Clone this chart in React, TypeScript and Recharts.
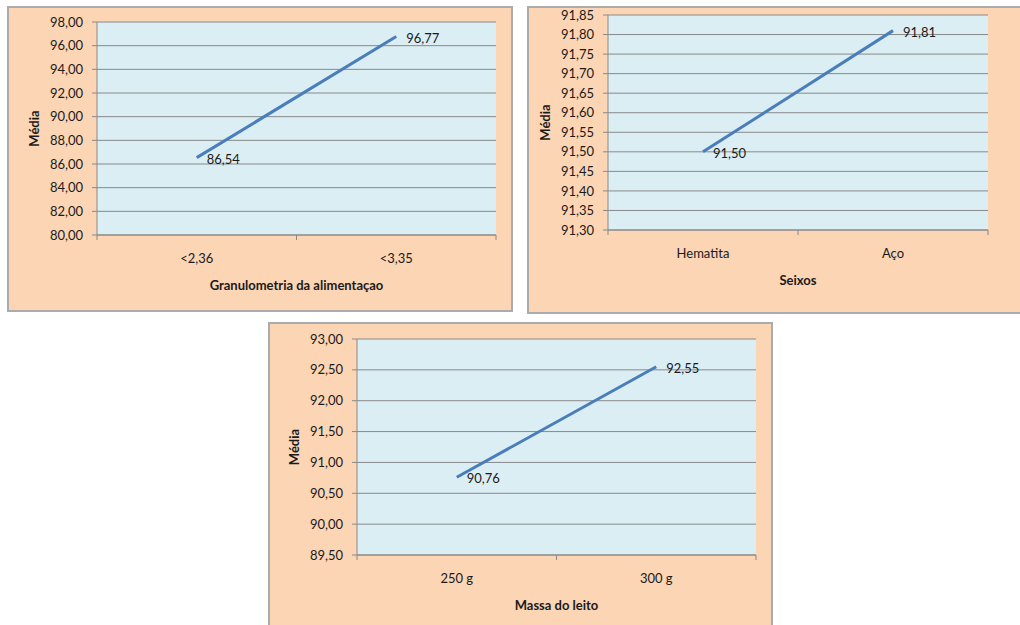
import React from 'react';
import { LineChart, Line, XAxis, YAxis, CartesianGrid, LabelList, Label } from 'recharts';

// Granulometria da alimentação
const granCategories = ['<2,36', '<3,35'];
const granMeans = [86.54, 96.77];
const granTicks = [80, 82, 84, 86, 88, 90, 92, 94, 96, 98];

// Seixos
const seixoCategories = ['Hematita', 'Aço'];
const seixoMeans = [91.5, 91.81];
const seixoTicks = [91.3, 91.35, 91.4, 91.45, 91.5, 91.55, 91.6, 91.65, 91.7, 91.75, 91.8, 91.85];

// Massa do leito
const massaCategories = ['250 g', '300 g'];
const massaMeans = [90.76, 92.55];
const massaTicks = [89.5, 90, 90.5, 91, 91.5, 92, 92.5, 93];

const FONT = "Lato, 'Open Sans', sans-serif";
const TEXT = '#1a1a1a';
const GRID = '#898989';

const fmt = (v: number) => Number(v).toFixed(2).replace('.', ',');

interface PanelProps {
    title: string;
    categories: string[];
    means: number[];
    ticks: number[];
    left: number;
    top: number;
    width: number;
    height: number;
    margin: { top: number; right: number; bottom: number; left: number };
    yWidth: number;
}

const MeanPanel: React.FC<PanelProps> = ({ title, categories, means, ticks, left, top, width, height, margin, yWidth }) => {
    // categories sit in the middle of unit-wide slots, tick marks on slot edges
    const data = categories.map((c, i) => ({ pos: i + 0.5, cat: c, value: means[i] }));
    const xTicks: number[] = [];
    categories.forEach((_, i) => xTicks.push(i, i + 0.5));
    xTicks.push(categories.length);

    const renderXTick = (p: any) => {
        const v = p.payload.value as number;
        if (Number.isInteger(v)) {
            return <line x1={p.x} y1={p.y} x2={p.x} y2={p.y + 5} stroke={GRID} strokeWidth={1} />;
        }
        return (
            <text x={p.x} y={p.y + 23} textAnchor="middle" dominantBaseline="central"
                fontFamily={FONT} fontSize={13} fill={TEXT}>
                {categories[Math.floor(v)]}
            </text>
        );
    };

    return (
        <div style={{
            position: 'absolute', left, top, width, height, boxSizing: 'border-box',
            background: '#FCD5B5', border: '2px solid #ABABAB',
        }}>
            <div style={{ position: 'absolute', left: -2, top: -2 }}>
                <LineChart width={width} height={height} data={data} margin={margin}>
                    <CartesianGrid vertical={false} stroke={GRID} fill="#DBEEF4" />
                    <XAxis dataKey="pos" type="number" domain={[0, categories.length]} ticks={xTicks}
                        interval={0} height={60} tickSize={0} tickMargin={0} tickLine={false}
                        axisLine={{ stroke: GRID }} tick={renderXTick}>
                        <Label content={(lp: any) => {
                            const vb = lp.viewBox || {};
                            return (
                                <text x={vb.x + vb.width / 2} y={vb.y + 50} textAnchor="middle"
                                    dominantBaseline="central" fontFamily={FONT} fontSize={13}
                                    fontWeight="bold" fill={TEXT}>{title}</text>
                            );
                        }} />
                    </XAxis>
                    <YAxis type="number" domain={[ticks[0], ticks[ticks.length - 1]]} ticks={ticks}
                        interval={0} width={yWidth} tickSize={5} tickMargin={9}
                        axisLine={{ stroke: GRID }} tickLine={{ stroke: GRID }}
                        tickFormatter={fmt} tick={{ fontFamily: FONT, fontSize: 13, fill: TEXT }}>
                        <Label content={(lp: any) => {
                            const vb = lp.viewBox || {};
                            const cx = vb.x + vb.width - 63;
                            const cy = vb.y + vb.height / 2;
                            return (
                                <text x={cx} y={cy} transform={`rotate(-90, ${cx}, ${cy})`}
                                    textAnchor="middle" dominantBaseline="central" fontFamily={FONT}
                                    fontSize={13} fontWeight="bold" fill={TEXT}>Média</text>
                            );
                        }} />
                    </YAxis>
                    <Line type="linear" dataKey="value" stroke="#4A7EBB" strokeWidth={3}
                        dot={false} activeDot={false} isAnimationActive={false}>
                        <LabelList dataKey="value" content={(lp: any) => (
                            <text x={Number(lp.x) + 10} y={Number(lp.y) + 1} dominantBaseline="central"
                                fontFamily={FONT} fontSize={13} fill={TEXT}>{fmt(lp.value)}</text>
                        )} />
                    </Line>
                </LineChart>
            </div>
        </div>
    );
};

const App: React.FC = () => {
    return (
        <div style={{ position: 'absolute', left: 0, top: 0, width: 1020, height: 625, overflow: 'hidden', background: '#fff' }}>
            <MeanPanel title="Granulometria da alimentaçao" categories={granCategories} means={granMeans}
                ticks={granTicks} left={7} top={6} width={506} height={306}
                margin={{ top: 16, right: 17, bottom: 17, left: 0 }} yWidth={90} />
            <MeanPanel title="Seixos" categories={seixoCategories} means={seixoMeans}
                ticks={seixoTicks} left={527} top={6} width={505} height={308}
                margin={{ top: 9, right: 44, bottom: 24, left: 0 }} yWidth={81} />
            <MeanPanel title="Massa do leito" categories={massaCategories} means={massaMeans}
                ticks={massaTicks} left={268} top={322} width={505} height={310}
                margin={{ top: 17, right: 17, bottom: 17, left: 0 }} yWidth={89} />
        </div>
    );
};

export default App;
